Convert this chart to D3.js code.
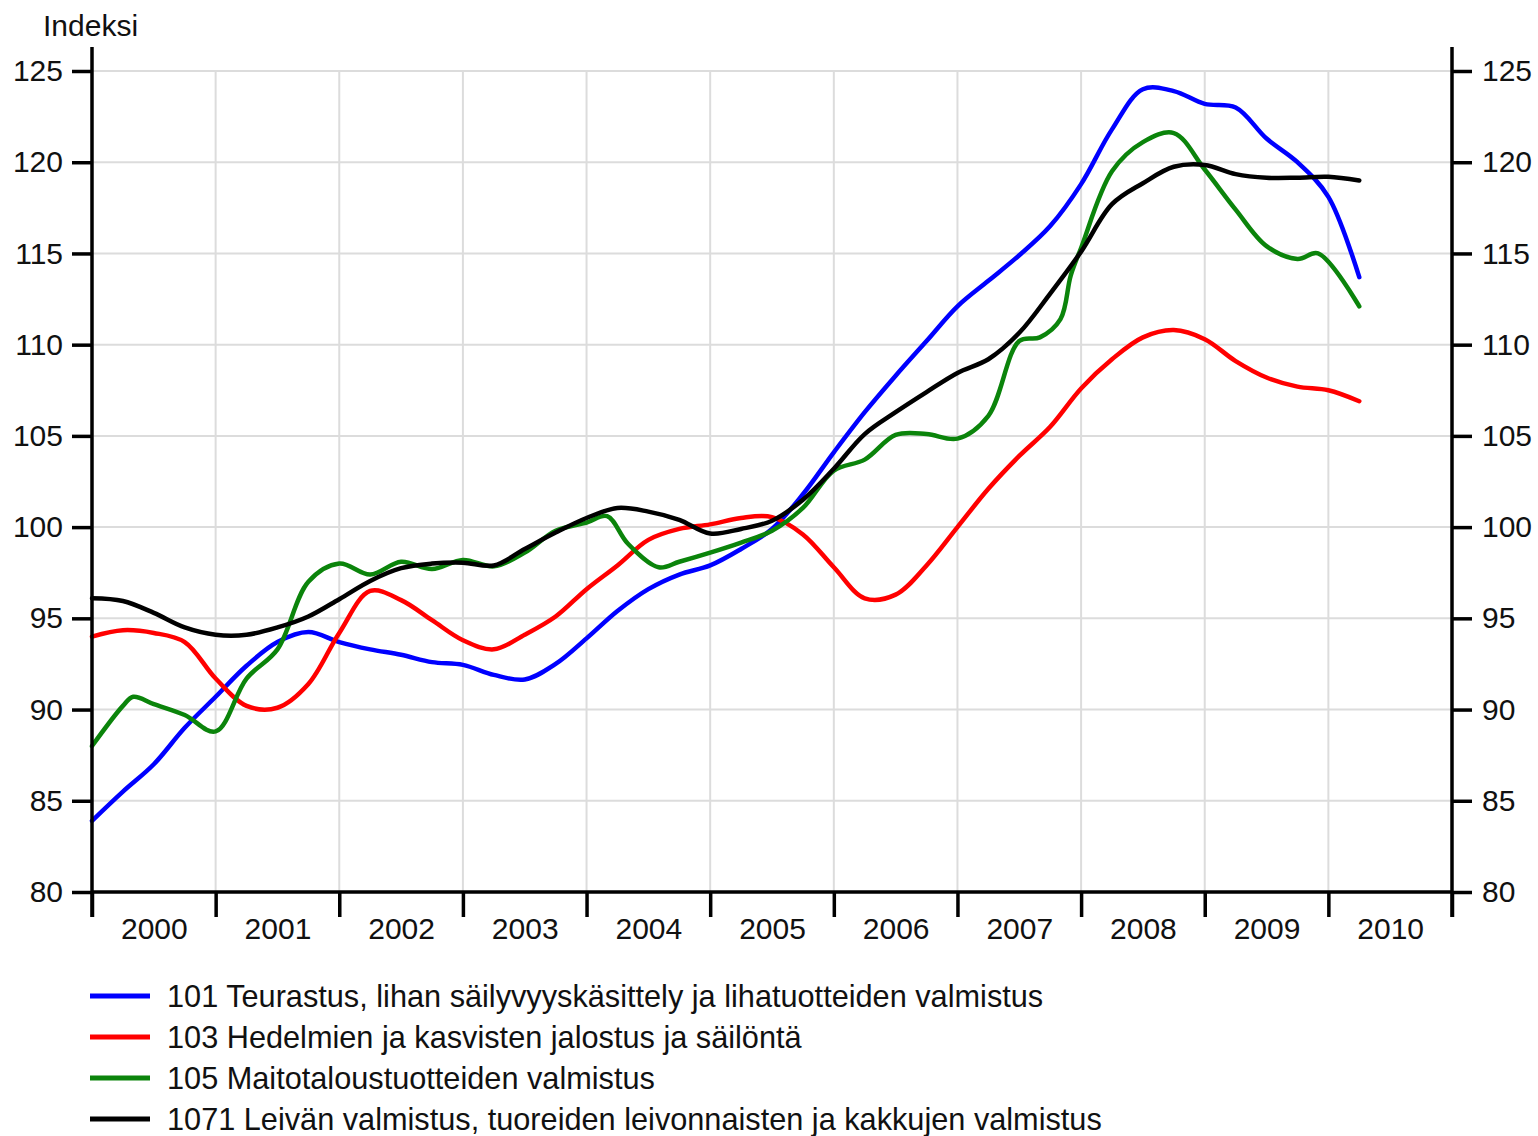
<!DOCTYPE html>
<html lang="fi">
<head>
<meta charset="UTF-8">
<title>Indeksi 2000-2010</title>
<script src="https://d3js.org/d3.v7.min.js"></script>
<style>
  html, body { margin: 0; padding: 0; background: #fff; }
  svg { display: block; font-family: "Liberation Sans", Arial, sans-serif; }
  .grid line { stroke: #dcdcdc; stroke-width: 2px; }
  .axis path, .axis line { stroke: #000; stroke-width: 3.5px; }
  .axis text { font-size: 30px; fill: #111; }
  .series { fill: none; stroke-width: 4.5px; stroke-linejoin: round; stroke-linecap: round; }
  .legend text { font-size: 30.7px; fill: #111; }
</style>
</head>
<body>
<svg width="1538" height="1136"></svg>
<script>
// kuukausi-indeksi: 0 = tammikuu 2000
const months = [0, 3, 6, 9, 12, 15, 18, 21, 24, 27, 30, 33, 36, 39, 42, 45, 48, 51, 54, 57, 60,
  63, 66, 69, 72, 75, 78, 81, 84, 87, 90, 93, 96, 99, 102, 105, 108, 111, 114, 117, 120, 123];

const teurastus = [83.9, 85.5, 87.0, 89.0, 90.7, 92.4, 93.7, 94.25, 93.7, 93.3, 93.0, 92.6, 92.45,
  91.9, 91.65, 92.5, 93.9, 95.4, 96.6, 97.4, 97.9, 98.8, 99.9, 101.8, 104.1, 106.3, 108.3, 110.2,
  112.1, 113.5, 114.9, 116.5, 118.8, 121.8, 124.0, 123.9, 123.2, 123.0, 121.3, 120.0, 118.1, 113.7];

const hedelmat = [94.0, 94.35, 94.2, 93.7, 91.7, 90.2, 90.1, 91.4, 94.2, 96.5, 96.0, 94.9, 93.8,
  93.3, 94.1, 95.1, 96.6, 97.9, 99.3, 99.9, 100.15, 100.5, 100.55, 99.6, 97.8, 96.1, 96.3, 97.9,
  100.0, 102.1, 103.9, 105.5, 107.6, 109.2, 110.4, 110.8, 110.3, 109.1, 108.2, 107.7, 107.5, 106.9];

const leipa = [96.1, 95.95, 95.3, 94.5, 94.1, 94.1, 94.5, 95.1, 96.05, 97.05, 97.75, 98.0, 98.05,
  97.9, 98.8, 99.7, 100.5, 101.05, 100.85, 100.4, 99.65, 99.9, 100.35, 101.5, 103.2, 105.1, 106.3,
  107.4, 108.45, 109.2, 110.65, 112.8, 115.1, 117.7, 118.85, 119.75, 119.85, 119.35, 119.15, 119.15,
  119.2, 119.0];

// maitotaloussarja luettu tiheämmin nopeiden muutosten kohdalta
const monthsMaito = [0, 3, 4, 6, 9, 12, 15, 18, 21, 24, 27, 30, 33, 36, 39, 42, 45, 48, 50, 52, 55,
  57, 60, 63, 66, 69, 72, 75, 78, 81, 84, 87, 90, 92, 94, 95, 96, 99, 102, 105, 108, 111, 114, 117,
  119, 123];

const maito = [88.0, 90.2, 90.7, 90.3, 89.7, 88.8, 91.7, 93.3, 97.0, 98.0, 97.4, 98.1, 97.7, 98.2,
  97.85, 98.6, 99.8, 100.25, 100.6, 99.1, 97.8, 98.1, 98.6, 99.15, 99.8, 101.05, 103.1, 103.7,
  105.05, 105.1, 104.85, 106.1, 110.2, 110.4, 111.4, 113.8, 115.3, 119.5, 121.1, 121.6, 119.6,
  117.4, 115.4, 114.7, 115.0, 112.1];

const years = ["2000", "2001", "2002", "2003", "2004", "2005", "2006", "2007", "2008", "2009", "2010"];
const yTicks = [80, 85, 90, 95, 100, 105, 110, 115, 120, 125];

const seriesNames = [
  "101 Teurastus, lihan säilyvyyskäsittely ja lihatuotteiden valmistus",
  "103 Hedelmien ja kasvisten jalostus ja säilöntä",
  "105 Maitotaloustuotteiden valmistus",
  "1071 Leivän valmistus, tuoreiden leivonnaisten ja kakkujen valmistus"
];
const seriesColors = ["#0000ff", "#ff0000", "#0b840b", "#000000"];

const series = [
  { name: seriesNames[0], color: seriesColors[0], pts: months.map((m, i) => [m, teurastus[i]]) },
  { name: seriesNames[1], color: seriesColors[1], pts: months.map((m, i) => [m, hedelmat[i]]) },
  { name: seriesNames[2], color: seriesColors[2], pts: monthsMaito.map((m, i) => [m, maito[i]]) },
  { name: seriesNames[3], color: seriesColors[3], pts: months.map((m, i) => [m, leipa[i]]) }
];

const svg = d3.select("svg");
const plotLeft = 92, plotRight = 1452, plotTop = 71, plotBottom = 892;

const x = d3.scaleLinear().domain([0, years.length * 12]).range([plotLeft, plotRight]);
const y = d3.scaleLinear().domain([80, 125]).range([plotBottom, plotTop]);

const yearStarts = d3.range(0, years.length + 1).map(i => i * 12);

// ruudukko
const grid = svg.append("g").attr("class", "grid");
grid.selectAll("line.h")
  .data(yTicks.filter(v => v > 80))
  .join("line")
  .attr("class", "h")
  .attr("x1", plotLeft).attr("x2", plotRight)
  .attr("y1", d => y(d)).attr("y2", d => y(d));
grid.selectAll("line.v")
  .data(yearStarts.slice(1, -1))
  .join("line")
  .attr("class", "v")
  .attr("x1", d => x(d)).attr("x2", d => x(d))
  .attr("y1", plotTop).attr("y2", plotBottom);

// viivat
const line = d3.line()
  .x(d => x(d[0]))
  .y(d => y(d[1]))
  .curve(d3.curveCatmullRom.alpha(0.5));

svg.append("g").selectAll("path")
  .data(series)
  .join("path")
  .attr("class", "series")
  .attr("stroke", d => d.color)
  .attr("d", d => line(d.pts));

// akselit
const yLeft = svg.append("g")
  .attr("class", "axis")
  .attr("transform", `translate(${plotLeft},0)`)
  .call(d3.axisLeft(y).tickValues(yTicks).tickSize(20).tickPadding(9).tickSizeOuter(0));
yLeft.select(".domain").remove();

const yRight = svg.append("g")
  .attr("class", "axis")
  .attr("transform", `translate(${plotRight},0)`)
  .call(d3.axisRight(y).tickValues(yTicks).tickSize(20).tickPadding(10).tickSizeOuter(0));
yRight.select(".domain").remove();

const xAxis = svg.append("g")
  .attr("class", "axis")
  .attr("transform", `translate(0,${plotBottom})`)
  .call(d3.axisBottom(x).tickValues(yearStarts).tickSize(25).tickFormat("").tickSizeOuter(0));
xAxis.select(".domain").attr("d", `M${plotLeft},0H${plotRight}`);

svg.append("g")
  .attr("class", "axis")
  .attr("transform", `translate(0,${plotBottom})`)
  .call(d3.axisBottom(x).tickValues(years.map((d, i) => i * 12 + 6)).tickSize(0).tickPadding(26)
    .tickFormat((d, i) => years[i]))
  .select(".domain").remove();

// pystyakselien viivat
svg.append("g").attr("class", "axis").selectAll("line")
  .data([plotLeft, plotRight])
  .join("line")
  .attr("x1", d => d).attr("x2", d => d)
  .attr("y1", 47).attr("y2", plotBottom + 25);

svg.append("text")
  .attr("x", 43).attr("y", 36)
  .attr("font-size", 30)
  .attr("fill", "#111")
  .text("Indeksi");

// selite
const legend = svg.append("g").attr("class", "legend")
  .selectAll("g")
  .data(series)
  .join("g")
  .attr("transform", (d, i) => `translate(90,${996 + i * 41})`);

legend.append("line")
  .attr("x1", 0).attr("x2", 60)
  .attr("stroke", d => d.color)
  .attr("stroke-width", 5);

legend.append("text")
  .attr("x", 77)
  .attr("dy", "0.35em")
  .text(d => d.name);
</script>
</body>
</html>
